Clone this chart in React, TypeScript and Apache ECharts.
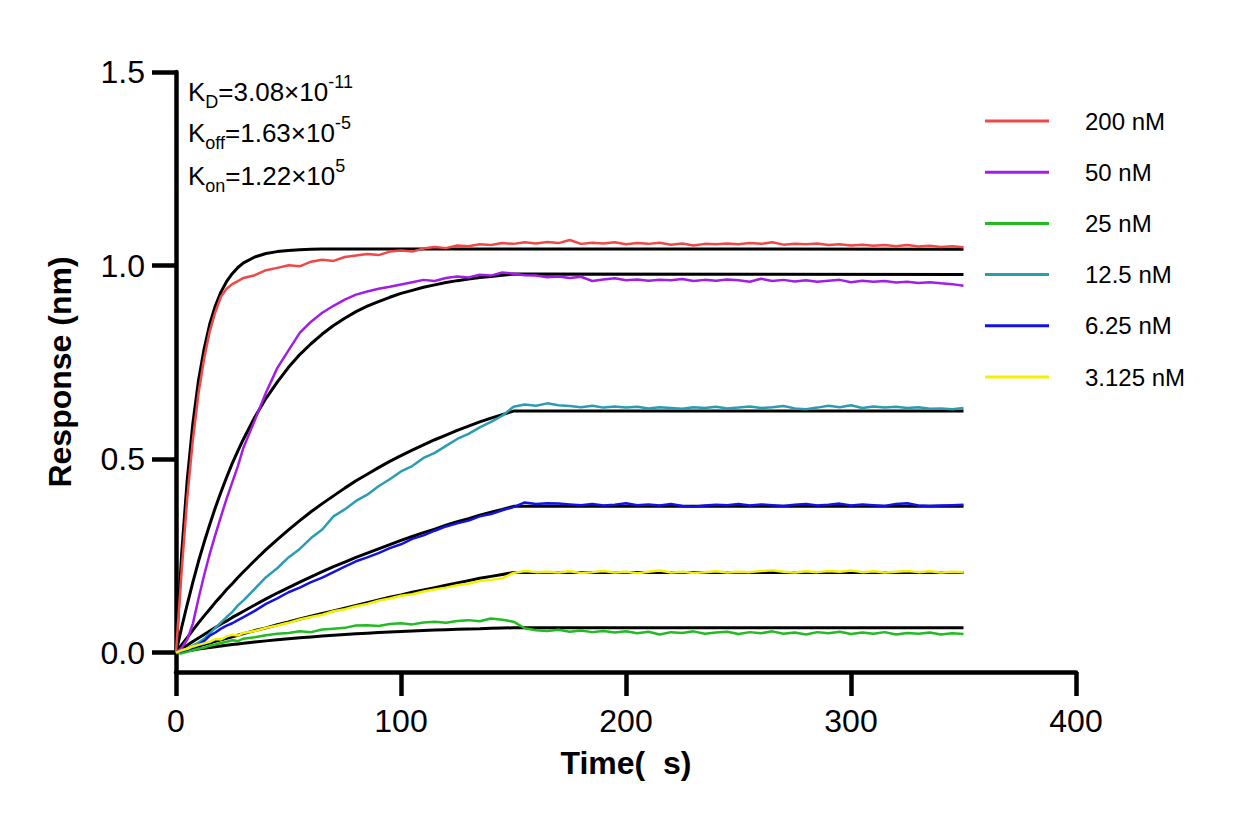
import React, { useEffect, useRef } from "react";
import * as echarts from "echarts";

// Time points (s) of the measured traces
const TIME_DATA = [
  0, 2.5, 5, 7.5, 10, 12.5, 15, 17.5, 20, 22.5, 25, 27.5, 30,
  35, 40, 45, 50, 55, 60, 65, 70, 75, 80, 85, 90, 95, 100, 105, 110, 115, 120, 125, 130, 135, 140, 145, 150,
  155, 160, 165, 170, 175, 180, 185, 190, 195, 200, 205, 210, 215, 220, 225, 230, 235, 240, 245, 250,
  255, 260, 265, 270, 275, 280, 285, 290, 295, 300, 305, 310, 315, 320, 325, 330, 335, 340, 345, 350,
];

// Time points (s) of the fitted curves
const TIME_FIT = [
  0, 2.5, 5, 7.5, 10, 12.5, 15, 17.5, 20, 22.5, 25, 27.5, 30,
  35, 40, 45, 50, 55, 60, 65, 70, 75, 80, 85, 90, 95, 100, 105, 110, 115, 120, 125, 130, 135, 140, 145, 150,
  350,
];

const CONCENTRATIONS = ["200 nM", "50 nM", "25 nM", "12.5 nM", "6.25 nM", "3.125 nM"];
const COLORS = ["#F04848", "#A21EE6", "#22BB22", "#2A9DB0", "#1212E8", "#F2F200"];

// Measured responses (nm)
const DATA_200 = [
  0, 0.21, 0.40, 0.55, 0.67, 0.76, 0.83, 0.88, 0.92, 0.94, 0.952, 0.960, 0.968,
  0.975, 0.988, 0.994, 1.001, 0.998, 1.010, 1.015, 1.012, 1.022, 1.026, 1.030, 1.027, 1.036, 1.039, 1.036, 1.044, 1.048, 1.045, 1.052, 1.050, 1.055, 1.053, 1.058, 1.056,
  1.060, 1.057, 1.061, 1.058, 1.066, 1.056, 1.059, 1.057, 1.060, 1.055, 1.058, 1.056, 1.059, 1.054, 1.057, 1.052, 1.056, 1.055, 1.057, 1.055,
  1.058, 1.056, 1.060, 1.054, 1.056, 1.055, 1.057, 1.053, 1.055, 1.052, 1.054, 1.051, 1.053, 1.050, 1.053, 1.049, 1.051, 1.048, 1.050, 1.047,
];
const DATA_50 = [
  0, 0.012, 0.034, 0.075, 0.140, 0.200, 0.255, 0.305, 0.352, 0.398, 0.440, 0.482, 0.530,
  0.600, 0.672, 0.735, 0.781, 0.826, 0.855, 0.878, 0.896, 0.912, 0.925, 0.933, 0.940, 0.945, 0.951, 0.957, 0.963, 0.960, 0.968, 0.972, 0.969, 0.976, 0.974, 0.982, 0.979,
  0.975, 0.974, 0.970, 0.972, 0.968, 0.971, 0.960, 0.964, 0.967, 0.962, 0.964, 0.961, 0.963, 0.962, 0.965, 0.960, 0.963, 0.961, 0.964, 0.962,
  0.958, 0.966, 0.960, 0.963, 0.959, 0.962, 0.958, 0.961, 0.963, 0.957, 0.961, 0.958, 0.960, 0.956, 0.958, 0.955, 0.957, 0.954, 0.952, 0.948,
];
const DATA_25 = [
  0, -0.002, 0.002, 0.006, 0.010, 0.013, 0.018, 0.021, 0.025, 0.028, 0.032, 0.030, 0.036,
  0.040, 0.045, 0.049, 0.051, 0.055, 0.053, 0.060, 0.062, 0.064, 0.070, 0.071, 0.069, 0.074, 0.076, 0.073, 0.078, 0.080, 0.077, 0.082, 0.084, 0.081, 0.088, 0.085, 0.080,
  0.063, 0.058, 0.056, 0.059, 0.054, 0.057, 0.053, 0.056, 0.052, 0.055, 0.050, 0.054, 0.047, 0.053, 0.051, 0.055, 0.049, 0.052, 0.054, 0.048,
  0.053, 0.050, 0.055, 0.049, 0.052, 0.047, 0.053, 0.050, 0.054, 0.048, 0.052, 0.049, 0.053, 0.047, 0.051, 0.049, 0.052, 0.047, 0.050, 0.048,
];
const DATA_12_5 = [
  0, 0.004, 0.010, 0.018, 0.026, 0.036, 0.050, 0.064, 0.078, 0.092, 0.105, 0.122, 0.135,
  0.165, 0.195, 0.218, 0.246, 0.268, 0.296, 0.318, 0.352, 0.370, 0.392, 0.408, 0.430, 0.448, 0.468, 0.482, 0.503, 0.516, 0.534, 0.552, 0.565, 0.582, 0.596, 0.612, 0.635,
  0.641, 0.638, 0.644, 0.639, 0.637, 0.634, 0.638, 0.633, 0.636, 0.633, 0.635, 0.631, 0.634, 0.632, 0.630, 0.634, 0.632, 0.635, 0.631, 0.633,
  0.636, 0.632, 0.634, 0.637, 0.631, 0.629, 0.633, 0.638, 0.634, 0.639, 0.632, 0.636, 0.633, 0.635, 0.632, 0.634, 0.630, 0.631, 0.629, 0.632,
];
const DATA_6_25 = [
  0, 0.004, 0.008, 0.014, 0.020, 0.030, 0.044, 0.052, 0.062, 0.070, 0.076, 0.084, 0.092,
  0.108, 0.126, 0.140, 0.156, 0.168, 0.182, 0.194, 0.208, 0.222, 0.236, 0.246, 0.257, 0.270, 0.280, 0.294, 0.303, 0.315, 0.326, 0.334, 0.341, 0.352, 0.358, 0.368, 0.376,
  0.388, 0.384, 0.386, 0.385, 0.383, 0.381, 0.384, 0.380, 0.382, 0.386, 0.381, 0.383, 0.380, 0.384, 0.379, 0.377, 0.380, 0.382, 0.381, 0.384,
  0.380, 0.383, 0.381, 0.379, 0.382, 0.384, 0.380, 0.382, 0.385, 0.380, 0.383, 0.381, 0.379, 0.384, 0.386, 0.380, 0.379, 0.380, 0.381, 0.382,
];
const DATA_3_125 = [
  0, 0.006, 0.010, 0.016, 0.020, 0.024, 0.028, 0.035, 0.034, 0.042, 0.046, 0.044, 0.051,
  0.056, 0.064, 0.070, 0.077, 0.086, 0.092, 0.098, 0.107, 0.112, 0.120, 0.126, 0.134, 0.140, 0.147, 0.151, 0.158, 0.163, 0.168, 0.174, 0.178, 0.185, 0.188, 0.192, 0.206,
  0.211, 0.208, 0.209, 0.207, 0.210, 0.206, 0.208, 0.211, 0.207, 0.209, 0.205, 0.209, 0.212, 0.207, 0.209, 0.206, 0.208, 0.210, 0.207, 0.209,
  0.208, 0.211, 0.213, 0.209, 0.207, 0.210, 0.208, 0.211, 0.209, 0.212, 0.208, 0.210, 0.207, 0.209, 0.211, 0.208, 0.210, 0.207, 0.209, 0.208,
];

// Fitted curves (nm)
const FIT_200 = [
  0, 0.255, 0.447, 0.593, 0.703, 0.785, 0.849, 0.896, 0.932, 0.959, 0.979, 0.995, 1.007,
  1.022, 1.031, 1.036, 1.039, 1.041, 1.042, 1.043, 1.043, 1.043, 1.043, 1.043, 1.043, 1.043, 1.043, 1.043, 1.043, 1.043, 1.043, 1.043, 1.043, 1.043, 1.043, 1.043, 1.043,
  1.042,
];
const FIT_50 = [
  0, 0.065, 0.125, 0.182, 0.236, 0.285, 0.331, 0.375, 0.415, 0.453, 0.489, 0.521, 0.552,
  0.608, 0.657, 0.699, 0.737, 0.770, 0.798, 0.823, 0.845, 0.864, 0.881, 0.895, 0.907, 0.918, 0.928, 0.936, 0.944, 0.950, 0.956, 0.961, 0.965, 0.969, 0.972, 0.975, 0.978,
  0.977,
];
const FIT_25 = [
  0, 0.0024, 0.0047, 0.0070, 0.0092, 0.0112, 0.0133, 0.0153, 0.0172, 0.0190, 0.0208, 0.0225, 0.0242,
  0.0274, 0.0304, 0.0332, 0.0358, 0.0383, 0.0406, 0.0428, 0.0448, 0.0467, 0.0485, 0.0502, 0.0518, 0.0532, 0.0545, 0.0558, 0.0571, 0.0582, 0.0593, 0.0603, 0.0612, 0.0620, 0.0629, 0.0636, 0.0643,
  0.0642,
];
const FIT_12_5 = [
  0, 0.020, 0.039, 0.058, 0.077, 0.095, 0.112, 0.130, 0.146, 0.163, 0.178, 0.194, 0.209,
  0.238, 0.266, 0.292, 0.317, 0.341, 0.364, 0.385, 0.405, 0.425, 0.444, 0.461, 0.478, 0.494, 0.509, 0.523, 0.537, 0.550, 0.562, 0.574, 0.585, 0.596, 0.606, 0.615, 0.624,
  0.624,
];
const FIT_6_25 = [
  0, 0.010, 0.019, 0.029, 0.038, 0.047, 0.056, 0.065, 0.074, 0.082, 0.091, 0.099, 0.107,
  0.123, 0.139, 0.154, 0.168, 0.182, 0.196, 0.209, 0.222, 0.234, 0.246, 0.257, 0.268, 0.279, 0.290, 0.300, 0.310, 0.319, 0.329, 0.338, 0.346, 0.355, 0.363, 0.370, 0.378,
  0.378,
];
const FIT_3_125 = [
  0, 0.004, 0.008, 0.013, 0.017, 0.021, 0.025, 0.029, 0.033, 0.037, 0.041, 0.045, 0.049,
  0.057, 0.064, 0.072, 0.079, 0.087, 0.094, 0.101, 0.108, 0.115, 0.122, 0.129, 0.136, 0.143, 0.149, 0.156, 0.162, 0.168, 0.174, 0.180, 0.186, 0.192, 0.197, 0.202, 0.207,
  0.207,
];

const Y_TICKS = [0, 0.5, 1.0, 1.5];
const X_TICK_STEP = 100;

const DATA_SETS = [DATA_200, DATA_50, DATA_25, DATA_12_5, DATA_6_25, DATA_3_125];
const FIT_SETS = [FIT_200, FIT_50, FIT_25, FIT_12_5, FIT_6_25, FIT_3_125];

const FONT = "'Liberation Sans', Arial, Helvetica, sans-serif";

export default function App() {
  const ref = useRef<HTMLDivElement>(null);

  useEffect(() => {
    if (!ref.current) return;
    const chart = echarts.init(ref.current, null, { renderer: "svg" });

    const series: any[] = [];
    CONCENTRATIONS.forEach((name, i) => {
      series.push({
        name: name + " fit",
        type: "line",
        data: TIME_FIT.map((t, j) => [t, FIT_SETS[i][j]]),
        showSymbol: false,
        symbol: "none",
        color: "#000",
        lineStyle: { width: 3, color: "#000" },
        itemStyle: { color: "#000" },
        silent: true,
        z: 2,
      });
    });
    CONCENTRATIONS.forEach((name, i) => {
      series.push({
        name,
        type: "line",
        data: TIME_DATA.map((t, j) => [t, DATA_SETS[i][j]]),
        showSymbol: false,
        symbol: "none",
        color: COLORS[i],
        lineStyle: { width: 2.5, color: COLORS[i] },
        itemStyle: { color: COLORS[i] },
        silent: true,
        z: 3,
      });
    });

    const rich = {
      k: { fontSize: 26, fontFamily: FONT, color: "#000", lineHeight: 38, verticalAlign: "middle" },
      sub: { fontSize: 18, fontFamily: FONT, color: "#000", lineHeight: 18, verticalAlign: "bottom" },
      sup: { fontSize: 18, fontFamily: FONT, color: "#000", lineHeight: 18, verticalAlign: "top" },
    };

    chart.setOption({
      animation: false,
      backgroundColor: "#fff",
      textStyle: { fontFamily: FONT },
      grid: { left: 176, right: 173, top: 72, bottom: 153, containLabel: false },
      xAxis: {
        type: "value",
        min: 0,
        max: 400,
        interval: X_TICK_STEP,
        name: "Time(  s)",
        nameLocation: "middle",
        nameGap: 75,
        nameTextStyle: { fontSize: 32, fontWeight: "bold", color: "#000", fontFamily: FONT },
        axisLine: { show: true, onZero: false, lineStyle: { color: "#000", width: 4.5 } },
        axisTick: { show: true, inside: false, length: 24, lineStyle: { color: "#000", width: 4.5 } },
        axisLabel: { fontSize: 32, color: "#000", margin: 33, fontFamily: FONT },
        splitLine: { show: false },
      },
      yAxis: {
        type: "value",
        min: -0.05,
        max: 1.5,
        name: "Response (nm)",
        nameLocation: "middle",
        nameGap: 100,
        nameTextStyle: { fontSize: 32, fontWeight: "bold", color: "#000", fontFamily: FONT },
        axisLine: { show: true, onZero: false, lineStyle: { color: "#000", width: 4.5 } },
        axisTick: {
          show: true,
          inside: false,
          length: 24,
          customValues: Y_TICKS,
          lineStyle: { color: "#000", width: 4.5 },
        },
        axisLabel: {
          fontSize: 32,
          color: "#000",
          margin: 31,
          fontFamily: FONT,
          customValues: Y_TICKS,
          formatter: (v: number) => v.toFixed(1),
        },
        splitLine: { show: false },
      },
      legend: {
        data: CONCENTRATIONS,
        orient: "vertical",
        left: 980,
        top: 104,
        icon: "rect",
        itemWidth: 64,
        itemHeight: 3,
        itemGap: 27.2,
        selectedMode: false,
        textStyle: { fontSize: 24, lineHeight: 24, color: "#000", fontFamily: FONT, padding: [0, 0, 0, 31] },
      },
      graphic: [
        {
          type: "text",
          left: 188,
          top: 73,
          style: { text: "{k|K}{sub|D}{k|=3.08×10}{sup|-11}", rich },
        },
        {
          type: "text",
          left: 188,
          top: 114,
          style: { text: "{k|K}{sub|off}{k|=1.63×10}{sup|-5}", rich },
        },
        {
          type: "text",
          left: 188,
          top: 157,
          style: { text: "{k|K}{sub|on}{k|=1.22×10}{sup|5}", rich },
        },
      ],
      series,
    });

    return () => chart.dispose();
  }, []);

  return (
    <div
      ref={ref}
      style={{ position: "absolute", left: 0, top: 0, width: 1249, height: 825, background: "#fff" }}
    />
  );
}
